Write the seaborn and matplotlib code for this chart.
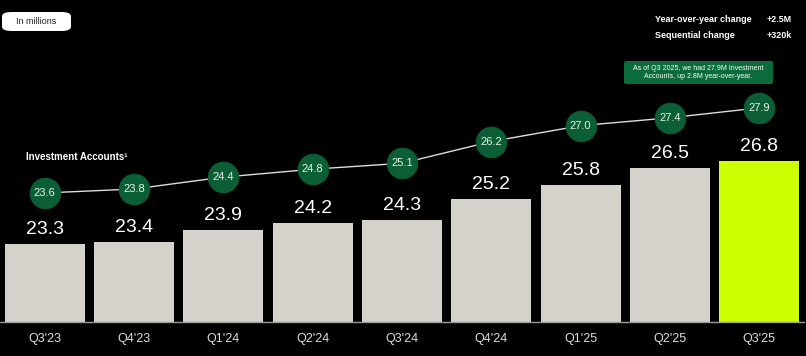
import numpy as np
import pandas as pd
import seaborn as sns
import matplotlib.pyplot as plt
from matplotlib.patches import FancyBboxPatch

# Data (in millions)
quarters = ["Q3'23", "Q4'23", "Q1'24", "Q2'24", "Q3'24", "Q4'24", "Q1'25", "Q2'25", "Q3'25"]
funded_customers = [23.3, 23.4, 23.9, 24.2, 24.3, 25.2, 25.8, 26.5, 26.8]
investment_accounts = [23.6, 23.8, 24.4, 24.8, 25.1, 26.2, 27.0, 27.4, 27.9]

bar_colors = ['#d5d1cb'] * (len(quarters) - 1) + ['#ccff00']
green = '#0b5e35'

df = pd.DataFrame({'quarter': quarters, 'value': funded_customers})

sns.set_style('dark')
plt.rcParams['font.family'] = ['Liberation Sans', 'DejaVu Sans']

fig = plt.figure(figsize=(8.06, 3.56), dpi=100, facecolor='black')
ax = fig.add_axes([0, 34 / 356, 804 / 806, 322 / 356])
ax.set_facecolor('black')

sns.barplot(data=df, x='quarter', y='value', hue='quarter', palette=bar_colors,
            legend=False, width=0.895, ax=ax, saturation=1, linewidth=0, edgecolor='none')
ax.set_xlim(-0.5, len(quarters) - 0.5)
ax.set_ylim(20, 33.6)

for i, v in enumerate(funded_customers):
    ax.text(i, v + 0.25, f'{v:.1f}', ha='center', va='bottom', color='white', fontsize=14)

ax.set_xlabel('')
ax.set_ylabel('')
ax.set_yticks([])
ax.tick_params(axis='x', colors='#dddddd', labelsize=9, length=0, pad=8)
for s in ax.spines.values():
    s.set_visible(False)
ax.axhline(20, color='#9a9a9a', lw=1, clip_on=False)
ax.grid(False)

# Investment accounts line on its own scale
ax2 = ax.twinx()
sns.lineplot(x=np.arange(len(quarters)), y=investment_accounts, ax=ax2, color='#dddddd',
             lw=1, marker='o', markersize=22, markerfacecolor=green, markeredgecolor=green)
ax2.set_ylim(17.08, 33.35)
ax2.set_yticks([])
ax2.set_ylabel('')
ax2.grid(False)
for s in ax2.spines.values():
    s.set_visible(False)
for i, v in enumerate(investment_accounts):
    ax2.text(i, v, f'{v:.1f}', ha='center', va='center', color='#e6f2e6', fontsize=8)

# Annotations
fig.patches.append(FancyBboxPatch((2 / 806, 1 - 31 / 356), 69 / 806, 19 / 356,
                                  boxstyle='round,pad=0,rounding_size=0.012',
                                  transform=fig.transFigure, facecolor='white',
                                  edgecolor='none'))
fig.text(36 / 806, 1 - 21.5 / 356, 'In millions', ha='center', va='center',
         color='#222222', fontsize=6.5)

fig.text(655 / 806, 1 - 20 / 356, 'Year-over-year change', ha='left', va='center',
         color='white', fontsize=6.5, fontweight='bold')
fig.text(792 / 806, 1 - 20 / 356, '+2.5M', ha='right', va='center',
         color='white', fontsize=6.5, fontweight='bold')
fig.text(655 / 806, 1 - 36 / 356, 'Sequential change', ha='left', va='center',
         color='white', fontsize=6.5, fontweight='bold')
fig.text(792 / 806, 1 - 36 / 356, '+320k', ha='right', va='center',
         color='white', fontsize=6.5, fontweight='bold')

fig.patches.append(FancyBboxPatch((624 / 806, 1 - 84 / 356), 149 / 806, 23 / 356,
                                  boxstyle='round,pad=0,rounding_size=0.004',
                                  transform=fig.transFigure, facecolor='#0b6b3a',
                                  edgecolor='none'))
fig.text(698.5 / 806, 1 - 72.5 / 356,
         'As of Q3 2025, we had 27.9M Investment\nAccounts, up 2.8M year-over-year.',
         ha='center', va='center', color='white', fontsize=5, linespacing=1.3)

fig.text(26 / 806, 1 - 157 / 356, 'Investment Accounts¹', ha='left', va='center',
         color='white', fontsize=7, fontweight='bold')

fig.savefig('out.png', dpi=100, facecolor='black')
